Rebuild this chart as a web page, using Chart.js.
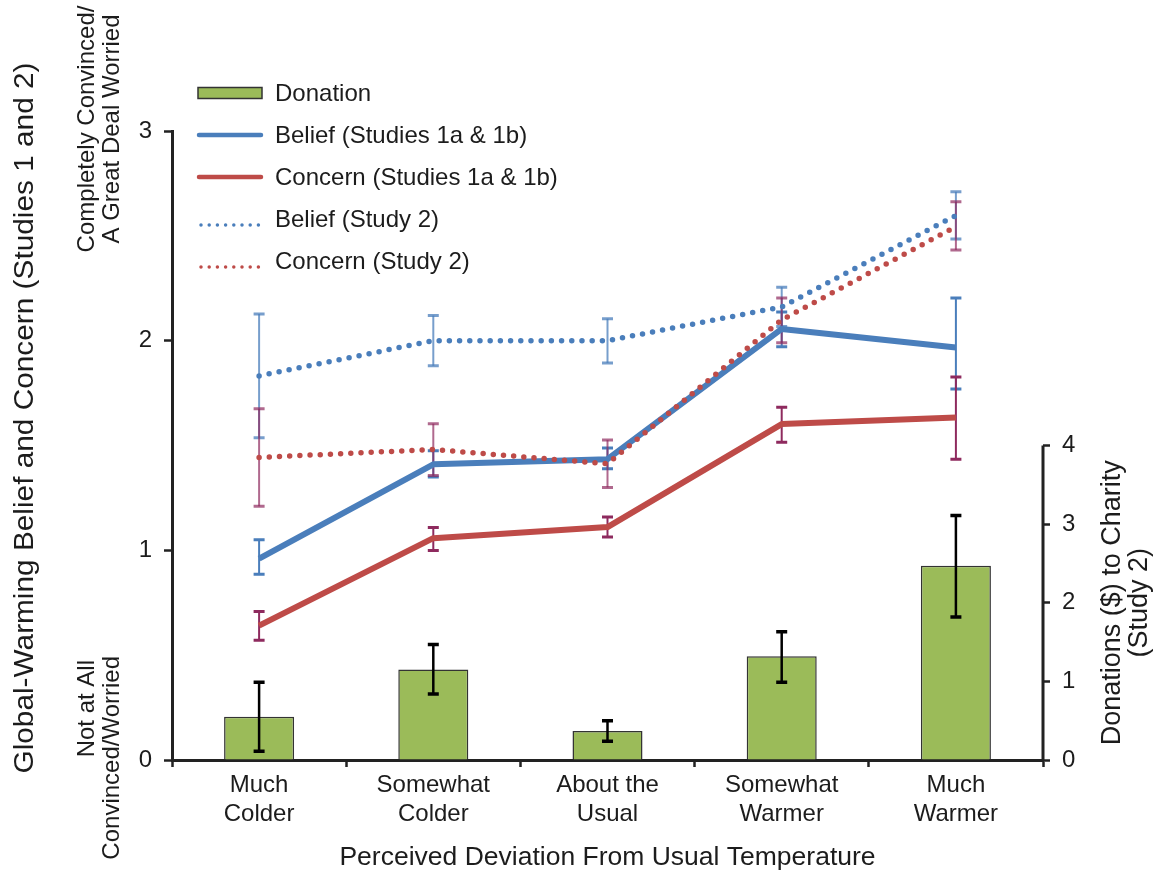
<!DOCTYPE html>
<html>
<head>
<meta charset="utf-8">
<script src="https://cdn.jsdelivr.net/npm/chart.js@4.4.0/dist/chart.umd.min.js"></script>
<style>
  body { margin: 0; background: #fff; }
  #wrap { position: relative; width: 1153px; height: 877px; }
</style>
</head>
<body>
<div id="wrap"><canvas id="tempChart"></canvas></div>
<script>
// Categories on the x axis (two-line labels)
const categories = [['Much', 'Colder'], ['Somewhat', 'Colder'], ['About the', 'Usual'], ['Somewhat', 'Warmer'], ['Much', 'Warmer']];

// Donations ($) to charity, Study 2 (right axis)
const donation = [0.55, 1.15, 0.37, 1.32, 2.47];
const donationLo = [0.11, 0.84, 0.24, 0.99, 1.82];
const donationHi = [0.99, 1.47, 0.50, 1.63, 3.11];

// Belief, Studies 1a & 1b
const belief1 = [0.96, 1.41, 1.435, 2.056, 1.967];
const belief1Lo = [0.886, 1.35, 1.389, 1.971, 1.77];
const belief1Hi = [1.05, 1.475, 1.488, 2.137, 2.204];

// Concern, Studies 1a & 1b
const concern1 = [0.641, 1.058, 1.111, 1.602, 1.633];
const concern1Lo = [0.571, 0.999, 1.063, 1.516, 1.435];
const concern1Hi = [0.708, 1.109, 1.159, 1.682, 1.827];

// Belief, Study 2
const belief2 = [1.832, 2.0, 2.0, 2.161, 2.597];
const belief2Lo = [1.537, 1.88, 1.894, 2.067, 2.485];
const belief2Hi = [2.127, 2.12, 2.105, 2.255, 2.71];

// Concern, Study 2
const concern2 = [1.443, 1.481, 1.413, 2.099, 2.544];
const concern2Lo = [1.21, 1.357, 1.30, 1.99, 2.433];
const concern2Hi = [1.675, 1.604, 1.526, 2.204, 2.662];

const FONT = "'Liberation Sans', Arial, sans-serif";
const INK = '#1c1c1c';
const BLUE = '#4a7ebb';
const RED = '#be4b48';
const GREEN = '#9bbb59';

// draws vertical error bars for one dataset from its errLo / errHi arrays
function drawErrors(chart, index) {
    const ds = chart.data.datasets[index];
    const meta = chart.getDatasetMeta(index);
    const scale = chart.scales[meta.yAxisID];
    const ctx = chart.ctx;
    ctx.save();
    ctx.strokeStyle = ds.errColor;
    meta.data.forEach((el, i) => {
        const x = el.x;
        const yLo = scale.getPixelForValue(ds.errLo[i]);
        const yHi = scale.getPixelForValue(ds.errHi[i]);
        ctx.lineWidth = ds.errWidth;
        ctx.beginPath();
        ctx.moveTo(x, yLo);
        ctx.lineTo(x, yHi);
        ctx.stroke();
        ctx.lineWidth = ds.errWidth + 1;
        ctx.beginPath();
        ctx.moveTo(x - 5.5, yLo); ctx.lineTo(x + 5.5, yLo);
        ctx.moveTo(x - 5.5, yHi); ctx.lineTo(x + 5.5, yHi);
        ctx.stroke();
    });
    ctx.restore();
}

const errorBars = {
    id: 'errorBars',
    beforeDatasetsDraw(chart) {
        // line error bars sit under the lines
        [1, 2, 3, 4].forEach(i => drawErrors(chart, i));
    },
    afterDatasetsDraw(chart) {
        // bar error bars on top of the bars
        drawErrors(chart, 0);
    }
};

// rotated text; align is the canvas textAlign, length (optional) stretches the text to that size
function rotatedText(ctx, text, x, y, size, align, length) {
    ctx.save();
    ctx.translate(x, y);
    ctx.rotate(-Math.PI / 2);
    ctx.font = size + 'px ' + FONT;
    if (length) ctx.scale(length / ctx.measureText(text).width, 1);
    ctx.fillStyle = INK;
    ctx.textAlign = align || 'center';
    ctx.textBaseline = 'middle';
    ctx.fillText(text, 0, 0);
    ctx.restore();
}

// titles, custom legend and the short right axis line
const decorations = {
    id: 'decorations',
    afterDraw(chart) {
        const ctx = chart.ctx;
        const area = chart.chartArea;
        const y2 = chart.scales.y2;

        // right axis line only from 0 to 4
        ctx.save();
        ctx.strokeStyle = '#222';
        ctx.lineWidth = 3;
        ctx.beginPath();
        ctx.moveTo(y2.left, y2.getPixelForValue(0) + 1.5);
        ctx.lineTo(y2.left, y2.getPixelForValue(4));
        ctx.stroke();
        ctx.restore();

        // x axis title
        ctx.save();
        ctx.font = '26.5px ' + FONT;
        ctx.fillStyle = INK;
        ctx.textAlign = 'center';
        ctx.textBaseline = 'middle';
        ctx.fillText('Perceived Deviation From Usual Temperature', (area.left + area.right) / 2, area.bottom + 98);
        ctx.restore();

        // left titles
        const yTop = chart.scales.y.getPixelForValue(3);
        rotatedText(ctx, 'Global-Warming Belief and Concern (Studies 1 and 2)', 26, 418, 27, 'center', 711);
        rotatedText(ctx, 'Completely Convinced/', 87, yTop - 2, 24);
        rotatedText(ctx, 'A Great Deal Worried', 112, yTop - 2, 24);
        rotatedText(ctx, 'Not at All', 87, 660, 24, 'right');
        rotatedText(ctx, 'Convinced/Worried', 112, 656, 24, 'right');

        // right title
        const yMid = y2.getPixelForValue(2);
        rotatedText(ctx, 'Donations ($) to Charity', 1113, yMid, 27);
        rotatedText(ctx, '(Study 2)', 1140, yMid, 27);

        // legend
        const lx = area.left + 26;
        const tx = area.left + 103;
        chart.data.datasets.forEach((ds, i) => {
            const ly = area.top - 38 + i * 42;
            ctx.save();
            if (ds.type === 'bar') {
                ctx.fillStyle = ds.backgroundColor;
                ctx.strokeStyle = ds.borderColor;
                ctx.lineWidth = 1.5;
                ctx.fillRect(lx, ly - 5.5, 64, 11);
                ctx.strokeRect(lx, ly - 5.5, 64, 11);
            } else {
                ctx.strokeStyle = ds.borderColor;
                ctx.lineCap = 'round';
                ctx.beginPath();
                if (ds.borderDash.length) {
                    ctx.lineWidth = 3.5;
                    ctx.setLineDash([0, 8.2]);
                    ctx.moveTo(lx + 3, ly + 6);
                    ctx.lineTo(lx + 62, ly + 6);
                } else {
                    ctx.lineWidth = 4.5;
                    ctx.moveTo(lx + 1, ly);
                    ctx.lineTo(lx + 63, ly);
                }
                ctx.stroke();
            }
            ctx.font = '24px ' + FONT;
            ctx.fillStyle = INK;
            ctx.textBaseline = 'middle';
            ctx.fillText(ds.label, tx, ly + 1);
            ctx.restore();
        });
    }
};

const lineBase = {
    type: 'line',
    yAxisID: 'y',
    pointRadius: 0,
    fill: false,
    tension: 0,
    borderJoinStyle: 'round'
};

new Chart(document.getElementById('tempChart').getContext('2d'), {
    data: {
        labels: categories,
        datasets: [
            {
                type: 'bar', label: 'Donation', data: donation, yAxisID: 'y2', order: 5,
                backgroundColor: GREEN, borderColor: '#333', borderWidth: 1.5,
                categoryPercentage: 1, barPercentage: 0.402,
                errLo: donationLo, errHi: donationHi, errColor: '#000', errWidth: 2.5
            },
            {
                ...lineBase, label: 'Belief (Studies 1a & 1b)', data: belief1, order: 4,
                borderColor: BLUE, borderWidth: 6, borderDash: [],
                errLo: belief1Lo, errHi: belief1Hi, errColor: BLUE, errWidth: 2
            },
            {
                ...lineBase, label: 'Concern (Studies 1a & 1b)', data: concern1, order: 3,
                borderColor: RED, borderWidth: 6, borderDash: [],
                errLo: concern1Lo, errHi: concern1Hi, errColor: '#8e2a5e', errWidth: 2
            },
            {
                ...lineBase, label: 'Belief (Study 2)', data: belief2, order: 2,
                borderColor: BLUE, borderWidth: 5.5, borderDash: [0, 10.2], borderCapStyle: 'round',
                errLo: belief2Lo, errHi: belief2Hi, errColor: 'rgba(74,126,187,0.75)', errWidth: 2
            },
            {
                ...lineBase, label: 'Concern (Study 2)', data: concern2, order: 1,
                borderColor: RED, borderWidth: 5.5, borderDash: [0, 10.2], borderCapStyle: 'round',
                errLo: concern2Lo, errHi: concern2Hi, errColor: 'rgba(142,42,94,0.7)', errWidth: 2
            }
        ]
    },
    options: {
        responsive: true,
        maintainAspectRatio: false,
        animation: false,
        layout: { padding: { top: 131, left: 0, right: 0, bottom: 0 } },
        plugins: {
            legend: { display: false },
            tooltip: { enabled: false }
        },
        scales: {
            x: {
                type: 'category',
                offset: true,
                afterFit: s => { s.height = 117; },
                grid: {
                    offset: true, drawOnChartArea: false, drawTicks: true,
                    tickLength: 7, tickWidth: 2.5, tickColor: '#222'
                },
                border: { display: true, color: '#222', width: 3 },
                ticks: { color: INK, font: { family: FONT, size: 24, lineHeight: 1.2 }, padding: 4, maxRotation: 0 }
            },
            y: {
                position: 'left',
                min: 0, max: 3,
                afterFit: s => { s.width = 172; },
                grid: {
                    drawOnChartArea: false, drawTicks: true,
                    tickLength: 8, tickWidth: 2.5, tickColor: '#222'
                },
                border: { display: true, color: '#222', width: 3 },
                ticks: { stepSize: 1, color: INK, font: { family: FONT, size: 24 }, padding: 12 }
            },
            y2: {
                position: 'right',
                min: 0, max: 8,
                afterFit: s => { s.width = 110; },
                grid: {
                    drawOnChartArea: false, drawTicks: true,
                    tickLength: 7, tickWidth: 2.5,
                    tickColor: c => (c.tick && c.tick.value <= 4 ? '#222' : 'rgba(0,0,0,0)')
                },
                border: { display: false },
                ticks: {
                    stepSize: 1, color: INK, font: { family: FONT, size: 24 }, padding: 12,
                    callback: v => (v <= 4 ? v : '')
                }
            }
        }
    },
    plugins: [errorBars, decorations]
});
</script>
</body>
</html>
